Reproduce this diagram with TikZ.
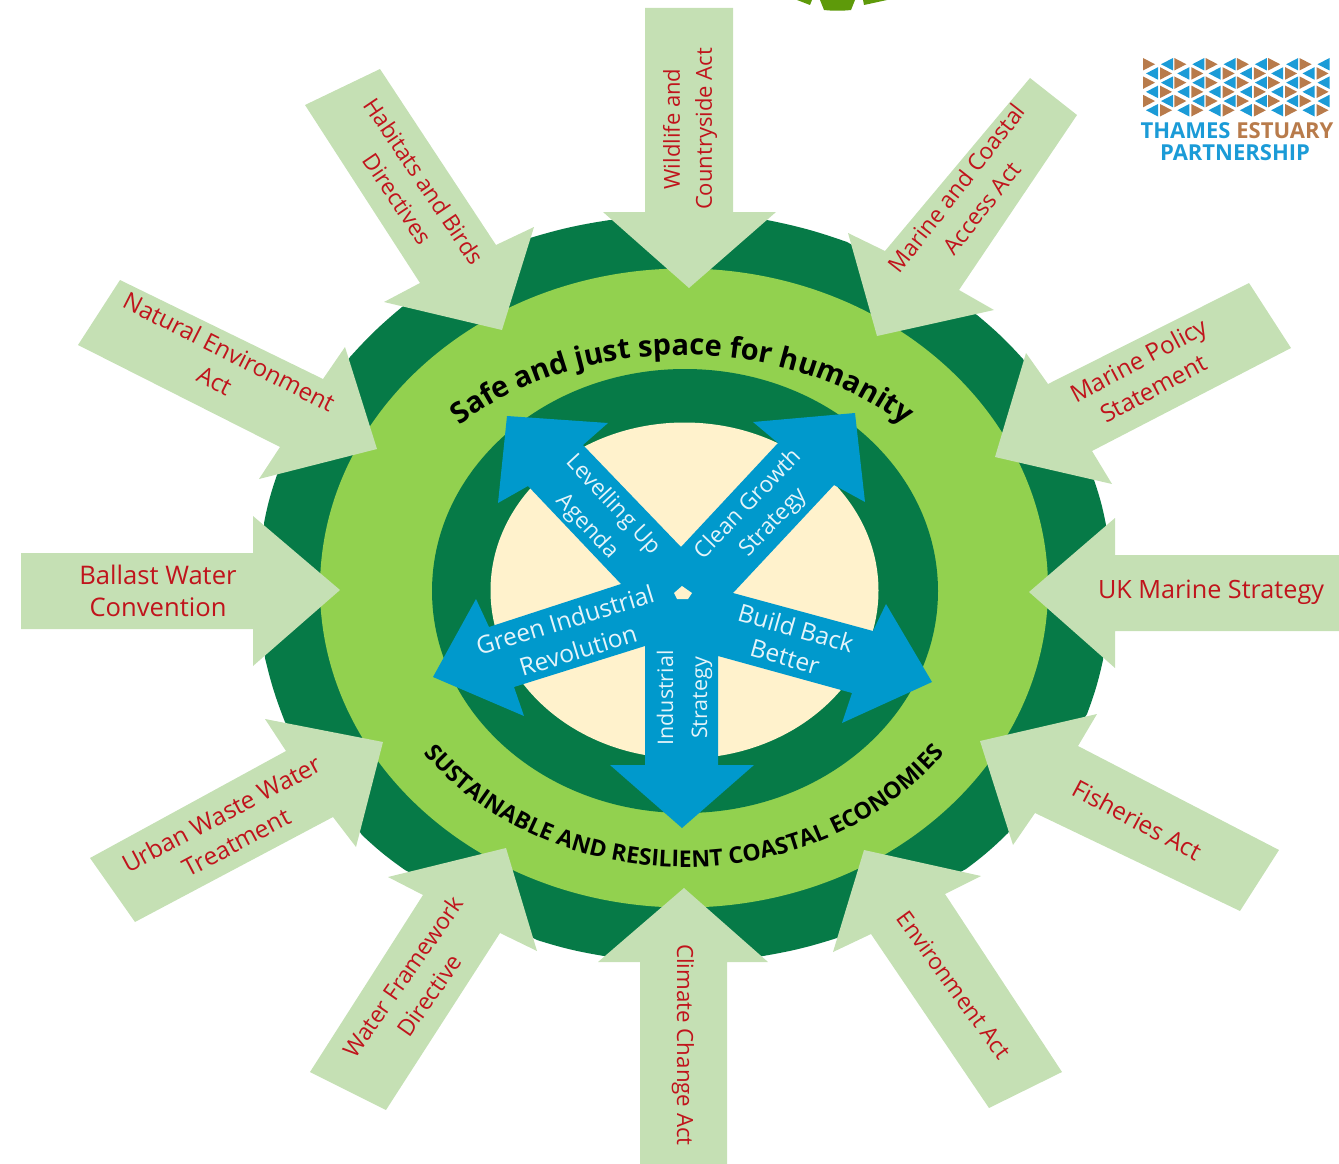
\documentclass[tikz,border=0pt]{standalone}
\usepackage{fontspec}
\setmainfont{Open Sans}
\usetikzlibrary{decorations.text}
\definecolor{lightarrow}{HTML}{C5E0B4}
\definecolor{midgreen}{HTML}{92D14F}
\definecolor{darkgreen}{HTML}{067A47}
\definecolor{creamfill}{HTML}{FFF2CC}
\definecolor{bluearrow}{HTML}{0099CC}
\definecolor{redtext}{HTML}{C0141C}
\definecolor{strategywhite}{HTML}{E4F4FA}
\definecolor{logobrown}{HTML}{B87B4B}
\definecolor{logoblue}{HTML}{1B9BD7}
\definecolor{topgreen}{HTML}{5E9A0A}
\tikzset{
  x=1pt,y=-1pt,
  policyarrow/.style={fill=lightarrow,draw=none},
  policytext/.style={text=redtext,align=center,font=\fontsize{#1}{32}\selectfont,inner sep=0pt},
  strategytext/.style={text=strategywhite,align=center,font=\fontsize{#1}{22}\selectfont,inner sep=0pt},
  logotext/.style={inner sep=0pt,font=\fontsize{22}{22}\selectfont\bfseries},
  arch/.style={bend left=4}
}
\begin{document}
\begin{tikzpicture}
\useasboundingbox (0,0) rectangle (1339,1164);
% fragment of a logo at the top edge
\fill[topgreen] (820,0) -- (855,0) -- (851,10) .. controls (842,11) and (833,11) .. (824,10) -- cycle;
\fill[topgreen] (797,0) -- (812,0) -- (810,5) -- cycle;
\fill[topgreen] (863,0) -- (887,0) -- (864,5) -- cycle;
% outer scalloped ring
\fill[darkgreen] (530,238) to[arch] (610,220) -- (767,220) to[arch] (847,242) -- (977,315) to[arch] (1023,359)
  -- (1094,480) to[arch] (1106,525) -- (1103,660) to[arch] (1087,714) -- (1008,833) to[arch] (966,869)
  -- (837,938) to[arch] (763,956) -- (604,956) to[arch] (537,940) -- (405,870) to[arch] (362,835)
  -- (285,722) to[arch] (265,658) -- (264,523) to[arch] (277,475) -- (350,357) to[arch] (402,307) -- cycle;
\fill[midgreen] (684,588) ellipse[x radius=364pt,y radius=319.5pt];
\fill[darkgreen] (685,591) ellipse[x radius=253pt,y radius=222pt];
\fill[creamfill] (684.5,590.5) ellipse[x radius=194pt,y radius=168pt];
% policy arrows
\fill[policyarrow] (645,8) -- (733,8) -- (733,212) -- (776,212) -- (689,288) -- (603,212) -- (645,212) -- cycle;
\fill[policyarrow] (380,69) -- (496,245) -- (534,227) -- (502,330) -- (384,302) -- (420,283) -- (305,105) -- cycle;
\fill[policyarrow] (1030,78) -- (885,251) -- (848,233) -- (877,336) -- (994,310) -- (959,290) -- (1077,115) -- cycle;
\fill[policyarrow] (1249,283) -- (1048,384) -- (1026,353) -- (995,457) -- (1112,484) -- (1092,451) -- (1291,348) -- cycle;
\fill[policyarrow] (1339,555) -- (1115,555) -- (1115,518) -- (1029,592) -- (1115,668) -- (1115,631) -- (1339,631) -- cycle;
\fill[policyarrow] (1279,850) -- (1078,746) -- (1097,714) -- (980,741) -- (1013,845) -- (1035,813) -- (1240,911) -- cycle;
\fill[policyarrow] (1062,1072) -- (945,894) -- (981,876) -- (864,850) -- (833,952) -- (871,934) -- (989,1108) -- cycle;
\fill[policyarrow] (640,1164) -- (640,962) -- (598,962) -- (684,888) -- (768,962) -- (727,962) -- (727,1164) -- cycle;
\fill[policyarrow] (310,1072) -- (423,895) -- (388,877) -- (506,848) -- (537,951) -- (500,933) -- (386,1110) -- cycle;
\fill[policyarrow] (90,858) -- (286,751) -- (265,719) -- (383,742) -- (356,847) -- (333,817) -- (135,922) -- cycle;
\fill[policyarrow] (21,553) -- (253,553) -- (253,516) -- (340,590) -- (253,666) -- (253,629) -- (21,629) -- cycle;
\fill[policyarrow] (120,280) -- (323,379) -- (345,347) -- (377,449) -- (259,479) -- (280,447) -- (78,345) -- cycle;
% central star of strategy arrows
\fill[bluearrow] (507,416) -- (608,423) -- (583,445) -- (681,547) -- (778,443) -- (753,422) -- (855,413) -- (865,502)
  -- (834,485) -- (733,593) -- (873,631) -- (886,604) -- (932,682) -- (842,723) -- (852,693) -- (718,656)
  -- (718,765) -- (754,765) -- (682,828) -- (610,765) -- (645,765) -- (645,646) -- (514,687) -- (524,716)
  -- (433,677) -- (476,599) -- (489,627) -- (621,584) -- (528,486) -- (498,503) -- cycle;
\fill[creamfill] (682,586) -- (692,593) -- (688,599) -- (677,599) -- (674,593) -- cycle;
% strategy labels
\node[strategytext=22.5,rotate=-47] (lev1) at (613,505) {Levelling Up};
\node[strategytext=22.5,rotate=-47] (lev2) at (587,527) {Agenda};
\node[strategytext=22.5,rotate=46] (cle1) at (747,503) {Clean Growth};
\node[strategytext=22.5,rotate=46] (cle2) at (774,523) {Strategy};
\node[strategytext=24.5,rotate=17] (gre1) at (565,620) {Green Industrial};
\node[strategytext=24.5,rotate=17] (gre2) at (578,650) {Revolution};
\node[strategytext=24.5,rotate=-16] (bui1) at (796,628) {Build Back};
\node[strategytext=24.5,rotate=-16] (bui2) at (785,657) {Better};
\node[strategytext=21.5,rotate=90] (ind1) at (665,698) {Industrial};
\node[strategytext=21.5,rotate=90] (ind2) at (702,698) {Strategy};
% policy labels
\node[policytext=22,rotate=90] (wil) at (690,129) {Wildlife and\\Countryside Act};
\node[policytext=22.7,rotate=-56] (hab) at (411,190) {Habitats and Birds\\Directives};
\node[policytext=22.8,rotate=52] (mar) at (969,198) {Marine and Coastal\\Access Act};
\node[policytext=24.2,rotate=28] (pol) at (1146,374) {Marine Policy\\Statement};
\node[policytext=25.2] (ukm) at (1211,592) {UK Marine Strategy};
\node[policytext=24.3,rotate=-28] (fis) at (1137,820) {Fisheries Act};
\node[policytext=22.8,rotate=-54] (env) at (954,985) {Environment Act};
\node[policytext=22.3,rotate=-90] (cli) at (683,1045) {Climate Change Act};
\node[policytext=23,rotate=55] (wat) at (416,986) {Water Framework\\Directive};
\node[policytext=24.4,rotate=28] (urb) at (229,828) {Urban Waste Water\\Treatment};
\node[policytext=24,rotate=-27] (nat) at (222,366) {Natural Environment\\Act};
\node[policytext=25.6] (bal) at (158,591) {Ballast Water\\Convention};
% curved texts
\coordinate (ca) at (682,590);
\path[decorate,decoration={text along path,text align=center,
  text={|\fontsize{29}{29}\selectfont\bfseries|Safe and just space for humanity}}]
  (ca) ++(136:312pt and 235pt) arc[start angle=136,end angle=44,x radius=312pt,y radius=235pt];
\coordinate (cb) at (684,590);
\path[decorate,decoration={text along path,text align=center,
  text={|\fontsize{23}{23}\selectfont\bfseries|SUSTAINABLE AND RESILIENT COASTAL ECONOMIES}}]
  (cb) ++(214:322pt and 277pt) arc[start angle=214,end angle=326,x radius=322pt,y radius=277pt];
% partnership logo
\foreach \r in {0,2,4}{\foreach \k in {0,...,5}{
  \fill[logobrown] ({1143+31.3*\k},{58+\r*9.2}) -- ++(0,12.5) -- ++(12,-6.25) -- cycle;
  \fill[logoblue] ({1173+31.3*\k},{58+\r*9.2}) -- ++(0,12.5) -- ++(-12,-6.25) -- cycle;
}}
\foreach \r in {1,3,5}{\foreach \k in {0,...,5}{
  \fill[logoblue] ({1158+31.3*\k},{58+\r*9.2}) -- ++(0,12.5) -- ++(-12,-6.25) -- cycle;
  \fill[logobrown] ({1160+31.3*\k},{58+\r*9.2}) -- ++(0,12.5) -- ++(12,-6.25) -- cycle;
}}
\node[logotext,text=logoblue] (tha) at (1237,131) {THAMES \textcolor{logobrown}{ESTUARY}};
\node[logotext,text=logoblue] (par) at (1235,153) {PARTNERSHIP};
\end{tikzpicture}
\end{document}
